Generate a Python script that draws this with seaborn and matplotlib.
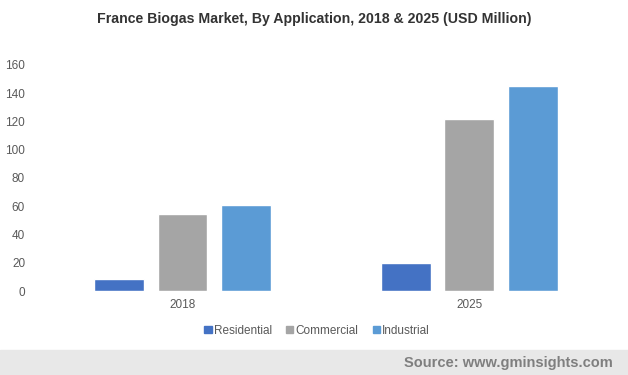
import matplotlib
matplotlib.use("Agg")
import matplotlib.pyplot as plt
import seaborn as sns
import pandas as pd
from matplotlib.patches import Rectangle

years = ["2018", "2025"]
applications = ["Residential", "Commercial", "Industrial"]
residential = [8.5, 19.9]
commercial = [54.8, 121.6]
industrial = [61.2, 145.3]
colors = ["#4472C4", "#A5A5A5", "#5B9BD5"]

rows = []
for app, vals in zip(applications, [residential, commercial, industrial]):
    for yr, v in zip(years, vals):
        rows.append({"Year": yr, "Application": app, "Value": v})
data = pd.DataFrame(rows)

sns.set_theme(style="white")
plt.rcParams["font.family"] = ["Liberation Sans", "DejaVu Sans"]

fig = plt.figure(figsize=(6.28, 3.75), dpi=100)
ax = fig.add_axes([0.0621, 0.224, 0.914, 0.603])

sns.barplot(data=data, x="Year", y="Value", hue="Application",
            hue_order=applications, palette=colors, width=0.664, gap=0.213,
            saturation=1, ax=ax, legend=False)

ax.set_ylim(0, 160)
ax.set_xlim(-0.5, 1.5)
ax.set_yticks(range(0, 161, 20))
ax.set_xlabel("")
ax.set_ylabel("")
for s in ax.spines.values():
    s.set_visible(False)
ax.tick_params(axis="both", length=0, labelsize=8.5, labelcolor="#595959")
ax.tick_params(axis="y", pad=10)
ax.tick_params(axis="x", pad=6)
for lbl in ax.get_yticklabels():
    lbl.set_horizontalalignment("right")

fig.text(0.5, 0.95, "France Biogas Market, By Application, 2018 & 2025 (USD Million)",
         ha="center", va="center", fontsize=10.2, fontweight="bold", color="#333333")

handles = [Rectangle((0, 0), 1, 1, color=c) for c in colors]
fig.legend(handles, applications, loc="center", bbox_to_anchor=(0.505, 0.118),
           ncol=3, frameon=False, fontsize=8.5, handlelength=0.6, handleheight=0.6,
           handletextpad=0.2, columnspacing=1.2, labelcolor="#595959")

fig.patches.append(Rectangle((0, 0), 1, 25 / 375, transform=fig.transFigure,
                             color="#E8E8E8", zorder=0))
fig.text(0.975, 12.5 / 375, "Source: www.gminsights.com", ha="right", va="center",
         fontsize=10.5, fontweight="bold", color="#7F7F7F")

fig.savefig("out.png", dpi=100)
